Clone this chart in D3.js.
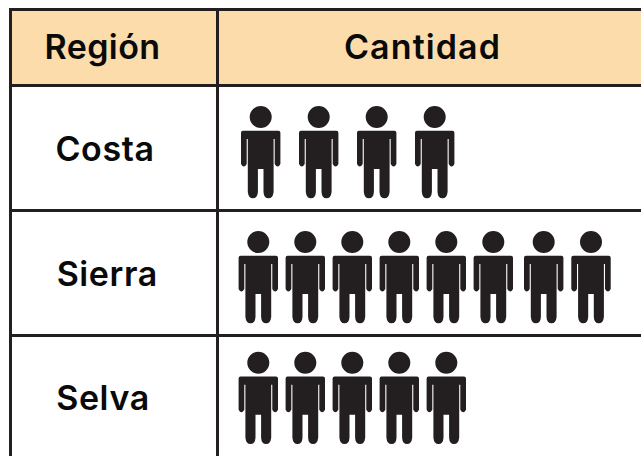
<!DOCTYPE html>
<html><head><meta charset="utf-8">
<script src="https://cdn.jsdelivr.net/npm/d3@7"></script>
<style>html,body{margin:0;padding:0;background:#fff}svg{display:block}text{font-family:Inter,sans-serif;font-weight:600;fill:#0a0a0a}</style>
</head><body><div id="c"></div>
<script>
const headers = ["Región", "Cantidad"];
const regions = ["Costa", "Sierra", "Selva"];
const counts = [4, 8, 5];

const W = 641, H = 456, ink = "#231f20";
const svg = d3.select("#c").append("svg").attr("width", W).attr("height", H);

const rowEdges = d3.scaleOrdinal().domain(["top","head",...regions]).range([9.5,85.5,210.5,335.5,470]);
const colX = d3.scaleOrdinal().domain(["left","mid"]).range([10.5,217.5]);

// header band
svg.append("rect").attr("x",colX("left")).attr("y",rowEdges("top"))
  .attr("width",W-colX("left")+10).attr("height",rowEdges("head")-rowEdges("top")).attr("fill","#fddcab");

// grid
const hl = ["top","head","Costa","Sierra"];
svg.selectAll("line.h").data(hl).join("line").attr("class","h")
  .attr("x1",colX("left")-1.5).attr("x2",W+5)
  .attr("y1",d=>rowEdges(d)).attr("y2",d=>rowEdges(d))
  .attr("stroke",ink).attr("stroke-width",3);
svg.selectAll("line.v").data(["left","mid"]).join("line").attr("class","v")
  .attr("x1",d=>colX(d)).attr("x2",d=>colX(d))
  .attr("y1",rowEdges("top")-1.5).attr("y2",H+5)
  .attr("stroke",ink).attr("stroke-width",3);

// headers
const headerX = d3.scaleOrdinal().domain(headers).range([102.5,422.5]);
const headerSpacing = d3.scaleOrdinal().domain(headers).range([0.4,1.1]);
svg.selectAll("text.h").data(headers).join("text").attr("class","h")
  .attr("x",d=>headerX(d)).attr("y",59).attr("text-anchor","middle")
  .attr("font-size",34).attr("letter-spacing",d=>headerSpacing(d)).text(d=>d);

// row labels
const labelYs = d3.scaleOrdinal().domain(regions).range([161,285.5,410]);
const labelXs = d3.scaleOrdinal().domain(regions).range([105,107.3,103]);
svg.selectAll("text.r").data(regions).join("text").attr("class","r")
  .attr("x",d=>labelXs(d)).attr("y",d=>labelYs(d)).attr("text-anchor","middle")
  .attr("font-size",34).attr("letter-spacing",0.6).text(d=>d);

// person glyph, local coordinates around the head centre
function person(){
  const p = d3.path();
  p.moveTo(-17.7,13.7);
  p.lineTo(17.7,13.7);
  p.quadraticCurveTo(19.7,13.7,19.7,15.7);
  p.lineTo(19.7,47);
  p.quadraticCurveTo(17,52,14.0,47);
  p.lineTo(14.0,22);
  p.lineTo(12.9,22);
  p.lineTo(12.9,75);
  p.quadraticCurveTo(12.2,81.3,7.8,81.3);
  p.quadraticCurveTo(3.2,81.3,2.8,75);
  p.lineTo(2.8,52);
  p.lineTo(-2.8,52);
  p.lineTo(-2.8,75);
  p.quadraticCurveTo(-3.2,81.3,-7.8,81.3);
  p.quadraticCurveTo(-12.2,81.3,-12.9,75);
  p.lineTo(-12.9,22);
  p.lineTo(-14.0,22);
  p.lineTo(-14.0,47);
  p.quadraticCurveTo(-17,52,-19.7,47);
  p.lineTo(-19.7,15.7);
  p.quadraticCurveTo(-19.7,13.7,-17.7,13.7);
  p.closePath();
  p.moveTo(11,0);
  p.arc(0,0,11,0,2*Math.PI);
  return p.toString();
}
const iconPath = person();
const headY = d3.scaleOrdinal().domain(regions).range([117,242,362.7]);
const xWide = d3.scaleLinear().domain([0,3]).range([260.7,434.7]);
const xTight = d3.scaleLinear().domain([0,5,6,7]).range([258.3,493.3,543.7,591]);

regions.forEach((r,i)=>{
  const x = counts[i] <= 4 ? xWide : xTight;
  svg.selectAll("path.i"+i).data(d3.range(counts[i])).join("path").attr("class","i"+i)
    .attr("d",iconPath).attr("fill",ink)
    .attr("transform",k=>`translate(${x(k)},${headY(r)})`);
});
</script></body></html>
